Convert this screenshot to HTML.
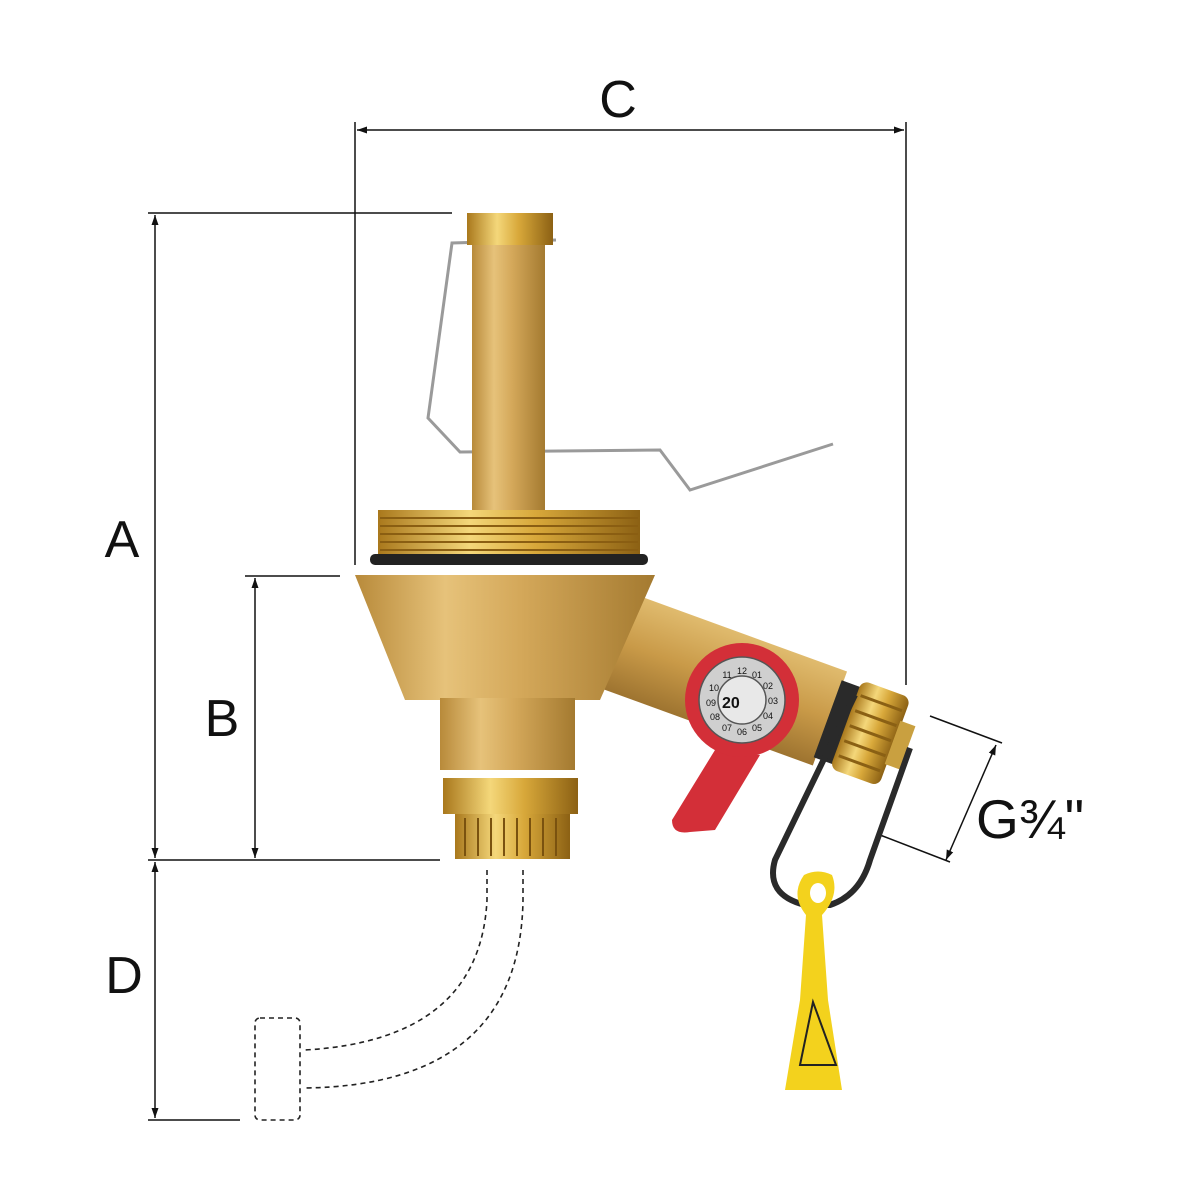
<!DOCTYPE html>
<html><head><style>
html,body{margin:0;padding:0;background:#fff;}
svg{display:block;}
text{font-family:"Liberation Sans",sans-serif;fill:#111;}
</style></head><body>
<svg width="1200" height="1200" viewBox="0 0 1200 1200" xmlns="http://www.w3.org/2000/svg">
<defs>
<marker id="ar" viewBox="0 0 10 10" refX="10" refY="5" markerWidth="10" markerHeight="10" orient="auto-start-reverse" markerUnits="userSpaceOnUse"><path d="M0,1.5 L10,5 L0,8.5 z" fill="#111"/></marker>
<linearGradient id="br" x1="0" x2="1" y1="0" y2="0">
<stop offset="0" stop-color="#b88a3a"/><stop offset="0.3" stop-color="#e6c27a"/><stop offset="0.55" stop-color="#d4a85a"/><stop offset="1" stop-color="#a47a30"/></linearGradient>
<linearGradient id="brv" x1="0" x2="0" y1="0" y2="1">
<stop offset="0" stop-color="#e0bb6e"/><stop offset="0.5" stop-color="#c99a48"/><stop offset="1" stop-color="#9e7430"/></linearGradient>
<linearGradient id="gold" x1="0" x2="1" y1="0" y2="0">
<stop offset="0" stop-color="#a9781c"/><stop offset="0.35" stop-color="#f4d77a"/><stop offset="0.6" stop-color="#d8a83a"/><stop offset="1" stop-color="#8c6114"/></linearGradient>
</defs>

<g stroke="#111" stroke-width="1.5" fill="none">
<line x1="355" y1="122" x2="355" y2="565"/>
<line x1="906" y1="122" x2="906" y2="685"/>
<line x1="357" y1="130" x2="904" y2="130" marker-start="url(#ar)" marker-end="url(#ar)"/>
<line x1="148" y1="213" x2="452" y2="213"/>
<line x1="155" y1="215" x2="155" y2="858" marker-start="url(#ar)" marker-end="url(#ar)"/>
<line x1="245" y1="576" x2="340" y2="576"/>
<line x1="255" y1="578" x2="255" y2="858" marker-start="url(#ar)" marker-end="url(#ar)"/>
<line x1="148" y1="860" x2="440" y2="860"/>
<line x1="155" y1="862" x2="155" y2="1118" marker-start="url(#ar)" marker-end="url(#ar)"/>
<line x1="148" y1="1120" x2="240" y2="1120"/>
<line x1="930" y1="716" x2="1002" y2="743"/>
<line x1="880" y1="835" x2="950" y2="862"/>
<line x1="996" y1="745" x2="946" y2="860" marker-start="url(#ar)" marker-end="url(#ar)"/>
</g>
<text x="618" y="117" font-size="52" text-anchor="middle">C</text>
<text x="122" y="557" font-size="52" text-anchor="middle">A</text>
<text x="222" y="736" font-size="52" text-anchor="middle">B</text>
<text x="124" y="993" font-size="52" text-anchor="middle">D</text>
<text x="976" y="838" font-size="55">G¾"</text>

<g stroke="#222" stroke-width="1.6" fill="none" stroke-dasharray="5,4">
<path d="M487,870 L487,900 Q480,1040 305,1050"/>
<path d="M523,870 L523,900 Q520,1085 305,1088"/>
<rect x="255" y="1018" width="45" height="102" rx="5"/>
</g>

<path d="M556,240 L452,243 L428,418 L460,452 L660,450 L690,490 L833,444" stroke="#9a9a9a" stroke-width="3" fill="none"/>

<rect x="472" y="240" width="73" height="270" fill="url(#br)"/>
<rect x="467" y="213" width="86" height="32" fill="url(#gold)"/>
<rect x="378" y="510" width="262" height="46" fill="url(#gold)"/>
<g stroke="#8a5e12" stroke-width="2">
<line x1="380" y1="518" x2="638" y2="518"/><line x1="380" y1="526" x2="638" y2="526"/>
<line x1="380" y1="534" x2="638" y2="534"/><line x1="380" y1="542" x2="638" y2="542"/>
<line x1="380" y1="550" x2="638" y2="550"/></g>
<rect x="370" y="554" width="278" height="11" rx="5" fill="#222"/>

<g transform="translate(645,598) rotate(20)">
<rect x="-20" y="0" width="235" height="100" fill="url(#brv)"/>
<rect x="213" y="10" width="20" height="82" fill="#2a2a2a"/>
<rect x="232" y="3" width="52" height="94" rx="8" fill="url(#gold)"/>
<g stroke="#8a6014" stroke-width="3"><line x1="236" y1="18" x2="280" y2="18"/><line x1="236" y1="34" x2="280" y2="34"/><line x1="236" y1="50" x2="280" y2="50"/><line x1="236" y1="66" x2="280" y2="66"/><line x1="236" y1="82" x2="280" y2="82"/></g>
<rect x="282" y="28" width="16" height="46" fill="#c9a040"/>
</g>

<path d="M355,575 L655,575 L600,700 L405,700 Z" fill="url(#br)"/>
<rect x="440" y="698" width="135" height="72" fill="url(#br)"/>
<rect x="443" y="778" width="135" height="36" fill="url(#gold)"/>
<rect x="455" y="814" width="115" height="45" fill="url(#gold)"/>
<g stroke="#7a520f" stroke-width="2"><line x1="465" y1="818" x2="465" y2="856"/><line x1="478" y1="818" x2="478" y2="856"/><line x1="491" y1="818" x2="491" y2="856"/><line x1="504" y1="818" x2="504" y2="856"/><line x1="517" y1="818" x2="517" y2="856"/><line x1="530" y1="818" x2="530" y2="856"/><line x1="543" y1="818" x2="543" y2="856"/><line x1="556" y1="818" x2="556" y2="856"/></g>

<path d="M855,695 L775,860 Q765,895 805,905 L830,905 Q860,895 870,860 L910,748" stroke="#2a2a2a" stroke-width="6" fill="none"/>

<path d="M715,750 L672,820 Q672,835 690,832 L715,830 L760,755 Z" fill="#d32f38"/>
<circle cx="742" cy="700" r="57" fill="#d32f38"/>
<circle cx="742" cy="700" r="43" fill="#cfcfcf" stroke="#555" stroke-width="1.5"/>
<circle cx="742" cy="700" r="24" fill="#e8e8e8" stroke="#555" stroke-width="1.5"/>
<text x="722" y="708" font-size="16" font-weight="bold">20</text>
<g font-size="9" text-anchor="middle" fill="#333">
<text x="742" y="674">12</text><text x="757" y="678">01</text><text x="768" y="689">02</text><text x="773" y="704">03</text><text x="768" y="719">04</text><text x="757" y="731">05</text><text x="742" y="735">06</text><text x="727" y="731">07</text><text x="715" y="720">08</text><text x="711" y="706">09</text><text x="714" y="691">10</text><text x="727" y="678">11</text>
</g>

<path d="M804,875 Q818,868 832,875 Q840,895 822,915 L828,1000 L842,1090 L785,1090 L800,1000 L806,915 Q790,895 804,875 Z" fill="#f3d21d"/>
<ellipse cx="818" cy="893" rx="8" ry="10" fill="#fff"/>
<path d="M813,1002 L800,1065 L836,1065 Z" fill="none" stroke="#222" stroke-width="2"/>
</svg>
</body></html>
